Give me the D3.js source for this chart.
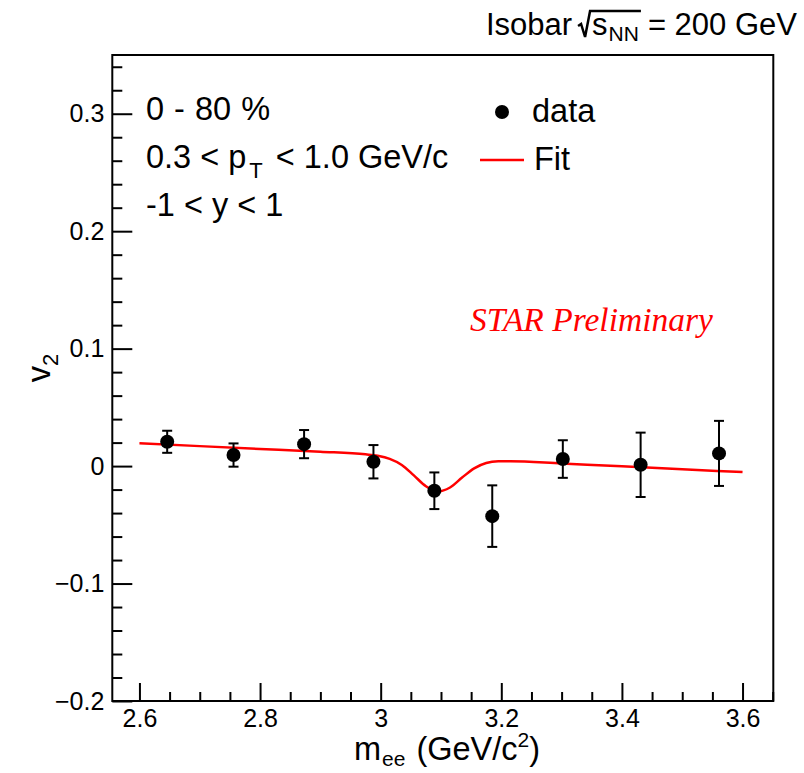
<!DOCTYPE html>
<html>
<head>
<meta charset="utf-8">
<script src="https://cdn.jsdelivr.net/npm/d3@7"></script>
<style>
  body { margin: 0; background: #fff; }
  svg { font-family: "Liberation Sans", Arial, Helvetica, sans-serif; }
</style>
</head>
<body>
<svg id="chart" width="804" height="773"></svg>
<script>
// measured points
var massBins = [2.646, 2.756, 2.873, 2.988, 3.089, 3.185, 3.302, 3.431, 3.561];
var v2Values = [0.0207, 0.0094, 0.0187, 0.0037, -0.021, -0.0426, 0.006, 0.0011, 0.0108];
var v2Errors = [0.0094, 0.0099, 0.012, 0.0142, 0.0156, 0.0262, 0.016, 0.0274, 0.0277];

// fit curve
var fitMass = [2.6, 2.7, 2.8, 2.9, 2.975, 2.995, 3.015, 3.035, 3.055, 3.075, 3.095,
               3.115, 3.135, 3.155, 3.175, 3.195, 3.215, 3.3, 3.4, 3.5, 3.6];
var fitV2 = [0.0195, 0.017, 0.0146, 0.0122, 0.0100, 0.0088, 0.0062, 0.0010, -0.0079, -0.0172, -0.0216,
             -0.0182, -0.0098, -0.0019, 0.0026, 0.0041, 0.0042, 0.0022, -0.0002, -0.0027, -0.0051];

// axes
var xMajor = [2.6, 2.8, 3.0, 3.2, 3.4, 3.6];
var xMinor = [2.65, 2.7, 2.75, 2.85, 2.9, 2.95, 3.05, 3.1, 3.15, 3.25, 3.3, 3.35, 3.45, 3.5, 3.55, 3.65];
var yMajor = [-0.2, -0.1, 0, 0.1, 0.2, 0.3];
var yMinor = [-0.18, -0.16, -0.14, -0.12, -0.08, -0.06, -0.04, -0.02, 0.02, 0.04, 0.06, 0.08,
              0.12, 0.14, 0.16, 0.18, 0.22, 0.24, 0.26, 0.28, 0.32, 0.34];

var frame = { left: 112.3, right: 773.3, top: 55, bottom: 701 };
var RED = "#ff0000";
var FS = 32.5;

var svg = d3.select("#chart");

var x = d3.scaleLinear().domain([2.555, 3.651]).range([frame.left, frame.right]);
var y = d3.scaleLinear().domain([-0.2, 0.35]).range([frame.bottom, frame.top]);

var fmt = d3.format(".1~f");

// ticks point inward, like ROOT
function styleAxis(g) {
    g.select(".domain").remove();
    g.selectAll("line").attr("stroke", "#000").attr("stroke-width", 2);
    g.selectAll("text").attr("fill", "#000").attr("font-size", 25)
     .style("font-family", "'Liberation Sans', Arial, sans-serif");
}

svg.append("g")
    .attr("transform", "translate(0," + frame.bottom + ")")
    .call(d3.axisBottom(x).tickValues(xMinor).tickSize(-9).tickFormat(""))
    .call(styleAxis);
svg.append("g")
    .attr("transform", "translate(0," + frame.bottom + ")")
    .call(d3.axisBottom(x).tickValues(xMajor).tickSize(-18).tickPadding(8).tickFormat(fmt))
    .call(styleAxis);

svg.append("g")
    .attr("transform", "translate(" + frame.left + ",0)")
    .call(d3.axisLeft(y).tickValues(yMinor).tickSize(-10).tickFormat(""))
    .call(styleAxis);
svg.append("g")
    .attr("transform", "translate(" + frame.left + ",0)")
    .call(d3.axisLeft(y).tickValues(yMajor).tickSize(-20).tickPadding(8).tickFormat(fmt))
    .call(styleAxis);

svg.append("rect")
    .attr("x", frame.left).attr("y", frame.top)
    .attr("width", frame.right - frame.left)
    .attr("height", frame.bottom - frame.top)
    .attr("fill", "none").attr("stroke", "#000").attr("stroke-width", 2);

// fit line
var line = d3.line()
    .x(function (d, i) { return x(fitMass[i]); })
    .y(function (d) { return y(d); })
    .curve(d3.curveMonotoneX);

svg.append("path")
    .attr("d", line(fitV2))
    .attr("fill", "none").attr("stroke", RED).attr("stroke-width", 2.5);

// data points with error bars
var pts = svg.append("g").selectAll("g")
    .data(massBins)
    .enter().append("g");

pts.append("line")
    .attr("x1", function (d) { return x(d); })
    .attr("x2", function (d) { return x(d); })
    .attr("y1", function (d, i) { return y(v2Values[i] + v2Errors[i]); })
    .attr("y2", function (d, i) { return y(v2Values[i] - v2Errors[i]); })
    .attr("stroke", "#000").attr("stroke-width", 2);

[1, -1].forEach(function (sgn) {
    pts.append("line")
        .attr("x1", function (d) { return x(d) - 5; })
        .attr("x2", function (d) { return x(d) + 5; })
        .attr("y1", function (d, i) { return y(v2Values[i] + sgn * v2Errors[i]); })
        .attr("y2", function (d, i) { return y(v2Values[i] + sgn * v2Errors[i]); })
        .attr("stroke", "#000").attr("stroke-width", 2);
});

pts.append("circle")
    .attr("cx", function (d) { return x(d); })
    .attr("cy", function (d, i) { return y(v2Values[i]); })
    .attr("r", 7)
    .attr("fill", "#000");

// axis titles
var yt = svg.append("text")
    .attr("transform", "translate(50,368) rotate(-90)")
    .attr("text-anchor", "middle")
    .attr("font-size", FS);
yt.append("tspan").text("v");
yt.append("tspan").attr("font-size", 22).attr("dy", 8).text("2");

var xt = svg.append("text")
    .attr("x", 447).attr("y", 760)
    .attr("text-anchor", "middle")
    .attr("font-size", FS);
xt.append("tspan").text("m");
xt.append("tspan").attr("font-size", 21).attr("dy", 6).attr("dx", 1).text("ee");
xt.append("tspan").attr("dy", -6).attr("dx", 2).text(" (GeV/c");
xt.append("tspan").attr("font-size", 21).attr("dy", -13).text("2");
xt.append("tspan").attr("dy", 13).text(")");

// cut labels
svg.append("text").attr("x", 146).attr("y", 120).attr("font-size", FS)
    .style("word-spacing", "1px").text("0 - 80 %");
var pt = svg.append("text").attr("x", 146).attr("y", 168).attr("font-size", FS);
pt.append("tspan").text("0.3 < p");
pt.append("tspan").attr("font-size", 22).attr("dy", 10).attr("dx", 3).text("T");
pt.append("tspan").attr("dy", -10).attr("dx", 4).text(" < 1.0 GeV/c");
svg.append("text").attr("x", 146).attr("y", 216).attr("font-size", FS).text("-1 < y < 1");

// legend
svg.append("circle").attr("cx", 502).attr("cy", 112).attr("r", 7).attr("fill", "#000");
svg.append("text").attr("x", 532).attr("y", 122).attr("font-size", FS).text("data");
svg.append("line").attr("x1", 480).attr("x2", 524).attr("y1", 160).attr("y2", 160)
    .attr("stroke", RED).attr("stroke-width", 2.5);
svg.append("text").attr("x", 534).attr("y", 170).attr("font-size", FS).text("Fit");

svg.append("text")
    .attr("x", 470).attr("y", 331)
    .style("font-family", "'Liberation Serif', 'Times New Roman', serif")
    .attr("font-style", "italic")
    .attr("font-size", 33.5)
    .attr("fill", RED)
    .text("STAR Preliminary");

// title: Isobar sqrt(s_NN) = 200 GeV, right aligned
var tg = svg.append("g");
var base = 35, xpos = 0;
var t1 = tg.append("text").attr("x", xpos).attr("y", base).attr("font-size", 31).text("Isobar");
xpos += t1.node().getComputedTextLength() + 6;
var radX = xpos;
xpos += 14;
var ts = tg.append("text").attr("x", xpos).attr("y", base).attr("font-size", 31).text("s");
xpos += ts.node().getComputedTextLength() + 1;
var tn = tg.append("text").attr("x", xpos).attr("y", base + 6).attr("font-size", 21).text("NN");
xpos += tn.node().getComputedTextLength() + 2;
tg.append("path")
    .attr("d", "M" + radX + "," + (base - 9) + " L" + (radX + 3) + "," + (base - 11) +
               " L" + (radX + 7) + "," + (base + 2) + " L" + (radX + 12) + "," + (base - 24) +
               " L" + xpos + "," + (base - 24))
    .attr("fill", "none").attr("stroke", "#000").attr("stroke-width", 2.5);
xpos += 7;
var te = tg.append("text").attr("x", xpos).attr("y", base).attr("font-size", 31).text("= 200 GeV");
xpos += te.node().getComputedTextLength();
tg.attr("transform", "translate(" + (797 - xpos) + ",0)");
</script>
</body>
</html>
